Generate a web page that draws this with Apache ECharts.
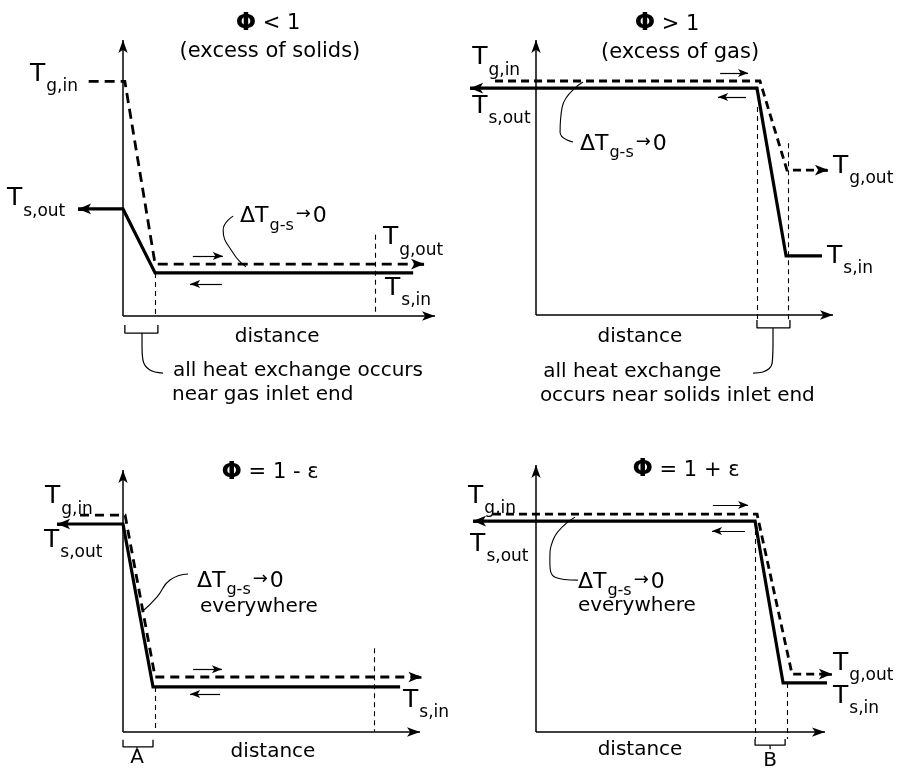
<!DOCTYPE html>
<html><head><meta charset="utf-8">
<script src="https://cdn.jsdelivr.net/npm/echarts@6/dist/echarts.min.js"></script>
<style>html,body{margin:0;padding:0;background:#fff}#c{width:898px;height:771px}</style>
</head><body><div id="c"></div>
<script>
// Schematic units: distance 0-100 along each x axis, temperature 0-100 along each y axis.
// ---- Panel 1: phi < 1 (excess of solids) ----
const gas1 = [[-11, 85], [0.6, 85], [10.3, 18.8], [96.5, 18.8]];
const solid1 = [[-14.4, 38.8], [0, 38.8], [10.3, 15.6], [93, 15.6]];
// ---- Panel 2: phi > 1 (excess of gas) ----
const gas2 = [[-13.8, 85.1], [75.4, 85.1], [84.5, 52.7], [98.3, 52.7]];
const solid2 = [[-22.2, 82.5], [74.4, 82.5], [84.2, 21.5], [96.3, 21.5]];
// ---- Panel 3: phi = 1 - eps ----
const gas3 = [[-14.5, 82.8], [0.7, 82.8], [10.8, 21], [100.5, 21]];
const solid3 = [[-22.2, 79.4], [0, 79.4], [10.1, 17.2], [93.3, 17.2]];
// ---- Panel 4: phi = 1 + eps ----
const gas4 = [[-14.9, 81.6], [76.5, 81.6], [88.6, 21.7], [102.4, 21.7]];
const solid4 = [[-21.8, 79], [75.8, 79], [85.5, 18.4], [100.7, 18.4]];

// axis arrows (distance axis end, temperature axis end)
const axisEnd = [100, 100];

// vertical dashed guide lines: [x, yTop, yBottom]
const guides1 = [[10.3, 15.6, 0], [80.8, 29.4, 1.4]];
const guides2 = [[74.4, 75.6, -1.8], [84.8, 62.5, -1.8]];
const guides3 = [[10.8, 17.2, 0], [84.5, 32, 0]];
const guides4 = [[75.8, 79, -2.6], [86.9, 18.4, -2.6]];

// flow direction arrows: [xFrom, xTo, y]
const flow1 = [[22.4, 32, 21.7], [31.7, 21.5, 11.6]];
const flow2 = [[62, 71.4, 88], [70.7, 61.3, 79.3]];
const flow3 = [[23.6, 33.3, 24], [32.7, 22.6, 14.5]];
const flow4 = [[61.2, 73.4, 85], [72.3, 60.9, 75.3]];

// brackets under the x axis
const bracket1 = [[0.6, -3.3], [0.6, -6.2], [11.2, -6.2], [11.2, -3.3]];
const bracket2 = [[74.4, -1.8], [74.4, -4.7], [85.5, -4.7], [85.5, -1.8]];
const bracket3 = [[0, -3], [0, -5.7], [10.1, -5.7], [10.1, -3]];
const bracket4 = [[75.8, -2.6], [75.8, -4.9], [86.2, -4.9], [86.2, -2.6]];
const bracketLead1 = [[6.1, -6.2], [6.1, -11], [6.4, -16], [8.5, -19.5], [12.8, -20.7]];
const bracketLead2 = [[79.8, -4.7], [79.8, -10.2], [79.5, -17.5], [76.4, -20.7], [73.1, -21.1]];
const bracketLead3 = [[4.7, -5.7], [4.7, -7]];
const bracketLead4 = [[81, -4.9], [81, -6.4]];

// curved leaders from the delta-T notes
const lead1 = [[35.3, 36.2], [32.1, 31.2], [35.3, 22.8], [39.4, 17.8]];
const lead2 = [[12.5, 62.9], [8.1, 66.5], [8.8, 75.6], [15.8, 84.7]];
const lead3 = [[21.9, 60.3], [15.8, 58], [11.4, 51.5], [6.7, 46.2]];
const lead4 = [[14.5, 56.9], [6.6, 58], [4.8, 64.4], [5.9, 71.9], [13.5, 80.5]];

// text
const TGIN = '{t|T}{s|g,in}', TSOUT = '{t|T}{s|s,out}', TGOUT = '{t|T}{s|g,out}', TSIN = '{t|T}{s|s,in}';
const DT = '{d|ΔT}{u|g-s}{a|→}{d|0}';
const labels1 = [
  [-29.8, 87.5, TGIN, 'left'], [-37.2, 42.4, TSOUT, 'left'], [83.3, 28.3, TGOUT, 'left'], [84, 10.1, TSIN, 'left'],
  [37.5, 36, DT, 'left'], [46.5, 106, '{h|Φ}{m| < 1}', 'center'], [47.1, 96, '{m|(excess of solids)}', 'center'],
  [49.4, -7.6, '{n|distance}', 'center'], [16, -19.9, '{n|all heat exchange occurs}', 'left'], [15.7, -28.6, '{n|near gas inlet end}', 'left']
];
const labels2 = [
  [-21.5, 93.5, TGIN, 'left'], [-21.5, 76, TSOUT, 'left'], [14.8, 62.2, DT, 'left'], [100, 54, TGOUT, 'left'],
  [98, 21.3, TSIN, 'left'], [44.1, 105.8, '{h|Φ}{m| > 1}', 'center'], [48.5, 95.3, '{m|(excess of gas)}', 'center'],
  [35, -8, '{n|distance}', 'center'], [2.4, -20.7, '{n|all heat exchange}', 'left'], [1.3, -29.2, '{n|occurs near solids inlet end}', 'left']
];
const labels3 = [
  [-26.3, 89.8, TGIN, 'left'], [-26.6, 73.1, TSOUT, 'left'], [24.9, 57.6, DT, 'left'], [25.9, 47.7, '{n|everywhere}', 'left'],
  [94.3, 12.2, TSIN, 'left'], [49.5, 98.9, '{h|Φ}{m| = 1 - ε}', 'center'], [50.5, -7.6, '{n|distance}', 'center'], [4.7, -10, '{n|A}', 'center']
];
const labels4 = [
  [-23.5, 88.2, TGIN, 'left'], [-22.8, 70.4, TSOUT, 'left'], [14.5, 56.2, DT, 'left'], [14.5, 47.4, '{n|everywhere}', 'left'],
  [102.8, 25.8, TGOUT, 'left'], [102.8, 13.3, TSIN, 'left'], [51.9, 98.1, '{h|Φ}{m| = 1 + ε}', 'center'],
  [36, -6.7, '{n|distance}', 'center'], [81, -10.6, '{n|B}', 'center']
];

const FONT = 'DejaVu Sans';
const rich = {
  t: {fontSize: 25, fontFamily: FONT, color: '#000'},
  s: {fontSize: 17, fontFamily: FONT, color: '#000', padding: [25, 0, 0, 1]},
  d: {fontSize: 22, fontFamily: FONT, color: '#000'},
  u: {fontSize: 16, fontFamily: FONT, color: '#000', padding: [18, 0, 0, 1]},
  a: {fontSize: 18, fontFamily: FONT, color: '#000', padding: [0, 2, 4, 2]},
  h: {fontSize: 24, fontFamily: FONT, color: '#000', fontWeight: 'bold'},
  m: {fontSize: 21, fontFamily: FONT, color: '#000'},
  n: {fontSize: 20, fontFamily: FONT, color: '#000'}
};

// plotting frames (axis ranges -39..110 x, -35..112 y so that notes left of / below the axes fit)
const XR = [-39, 110], YR = [-35, 112];
const panels = [
  {grid: {left: 1.3, top: 6.9, width: 464.9, height: 405.7}, gas: gas1, solid: solid1, guides: guides1, flow: flow1, bracket: bracket1, blead: bracketLead1, lead: lead1, labels: labels1, dash: [10, 6]},
  {grid: {left: 420.2, top: 7, width: 442.5, height: 404.3}, gas: gas2, solid: solid2, guides: guides2, flow: flow2, bracket: bracket2, blead: bracketLead2, lead: lead2, labels: labels2, dash: [8, 5]},
  {grid: {left: 7.2, top: 438.6, width: 442.5, height: 385.1}, gas: gas3, solid: solid3, guides: guides3, flow: flow3, bracket: bracket3, blead: bracketLead3, lead: lead3, labels: labels3, dash: [9, 6]},
  {grid: {left: 423.3, top: 433, width: 430.6, height: 392.5}, gas: gas4, solid: solid4, guides: guides4, flow: flow4, bracket: bracket4, blead: bracketLead4, lead: lead4, labels: labels4, dash: [8, 5]}
];

const grids = [], xAxes = [], yAxes = [], series = [];
const hiddenAxis = {type: 'value', axisLine: {show: false}, axisTick: {show: false}, axisLabel: {show: false}, splitLine: {show: false}};
panels.forEach((P, i) => {
  grids.push(Object.assign({outerBoundsMode: 'none', containLabel: false}, P.grid));
  xAxes.push(Object.assign({gridIndex: i, min: XR[0], max: XR[1]}, hiddenAxis));
  yAxes.push(Object.assign({gridIndex: i, min: YR[0], max: YR[1]}, hiddenAxis));
  const common = {xAxisIndex: i, yAxisIndex: i, clip: false, silent: true, symbol: 'none', animation: false};
  const g = P.gas, s = P.solid;
  const gl = g[g.length - 1], s0 = s[0];
  series.push(Object.assign({}, common, {
    type: 'line', data: g, z: 3,
    lineStyle: {color: '#000', width: 2.8, type: P.dash, join: 'miter', cap: 'butt'},
    markLine: {silent: true, animation: false, symbol: ['none', 'arrow'], symbolSize: [8, 13], label: {show: false},
      lineStyle: {color: '#000', width: 2.5, type: 'solid'},
      data: [[{coord: [gl[0] - 3, gl[1]]}, {coord: gl}]]}
  }));
  series.push(Object.assign({}, common, {
    type: 'line', data: s, z: 4,
    lineStyle: {color: '#000', width: 3.2, type: 'solid', join: 'miter', cap: 'butt'},
    markLine: {silent: true, animation: false, symbol: ['none', 'arrow'], symbolSize: [8, 13], label: {show: false},
      lineStyle: {color: '#000', width: 3, type: 'solid'},
      data: [[{coord: [s0[0] + 3, s0[1]]}, {coord: s0}]]}
  }));
  const ml = [];
  // axes
  ml.push([{coord: [0, 0], symbol: 'none', symbolSize: [7, 13], lineStyle: {type: 'solid', width: 1.5, color: '#000'}}, {coord: [axisEnd[0], 0], symbol: 'arrow', symbolSize: [7, 13]}]);
  ml.push([{coord: [0, 0], symbol: 'none', symbolSize: [7, 13], lineStyle: {type: 'solid', width: 1.5, color: '#000'}}, {coord: [0, axisEnd[1]], symbol: 'arrow', symbolSize: [7, 13]}]);
  P.guides.forEach(d => ml.push([{coord: [d[0], d[1]], symbol: 'none', lineStyle: {type: [5, 4], width: 1.1, color: '#000'}}, {coord: [d[0], d[2]], symbol: 'none'}]));
  P.flow.forEach(d => ml.push([{coord: [d[0], d[2]], symbol: 'none', lineStyle: {type: 'solid', width: 1.2, color: '#000'}}, {coord: [d[1], d[2]], symbol: 'arrow', symbolSize: [6, 10]}]));
  series.push(Object.assign({}, common, {
    type: 'line', data: P.bracket, z: 2,
    lineStyle: {color: '#000', width: 1.3},
    markLine: {silent: true, animation: false, symbol: ['none', 'none'], label: {show: false}, data: ml}
  }));
  series.push(Object.assign({}, common, {type: 'line', data: P.blead, smooth: 0.4, lineStyle: {color: '#000', width: 1.2}}));
  series.push(Object.assign({}, common, {type: 'line', data: P.lead, smooth: 0.5, lineStyle: {color: '#000', width: 1.1}}));
  series.push(Object.assign({}, common, {
    type: 'scatter', symbol: 'circle', symbolSize: 0, itemStyle: {color: 'transparent'}, z: 5,
    data: P.labels.map(l => ({value: [l[0], l[1]], label: {show: true, opacity: 1, position: 'inside', formatter: l[2], align: l[3], verticalAlign: 'middle', rich: rich}}))
  }));
});

const chart = echarts.init(document.getElementById('c'), null, {renderer: 'canvas'});
chart.setOption({
  animation: false,
  backgroundColor: '#fff',
  textStyle: {fontFamily: FONT},
  grid: grids, xAxis: xAxes, yAxis: yAxes, series: series
});
</script></body></html>
